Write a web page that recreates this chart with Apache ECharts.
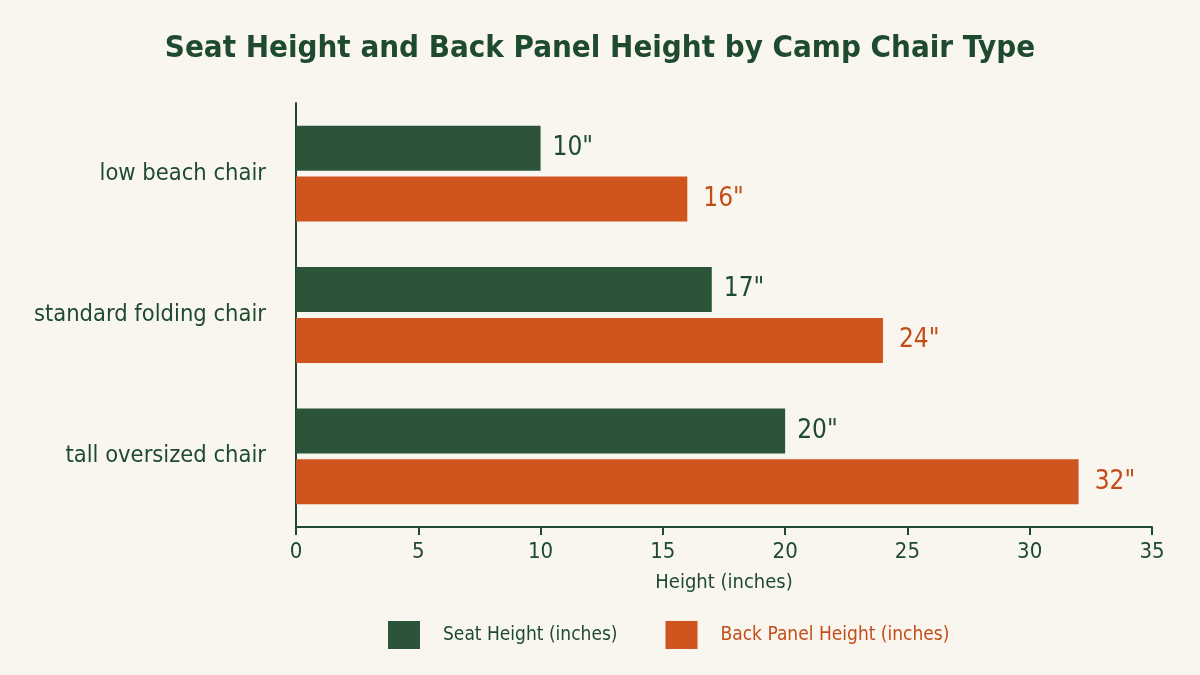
<!DOCTYPE html>
<html><head><meta charset="utf-8">
<script src="https://cdn.jsdelivr.net/npm/echarts@6/dist/echarts.min.js"></script>
<style>html,body{margin:0;padding:0;background:#f9f6ef;}#c{width:1200px;height:675px;}</style>
</head><body><div id="c"></div>
<script>
const categories = ["low beach chair", "standard folding chair", "tall oversized chair"];
const seatHeight = [10, 17, 20];
const backPanelHeight = [16, 24, 32];
const seriesNames = ["Seat Height (inches)", "Back Panel Height (inches)"];
const FONT = "'Liberation Sans Narrow', 'DejaVu Sans Condensed', 'Roboto', sans-serif";
const GREEN = "#2c5439", ORANGE = "#cf541d", DARK = "#1e4a2e";
const chart = echarts.init(document.getElementById('c'), null, {renderer: 'canvas'});
chart.setOption({
  backgroundColor: "#f9f6ef",
  textStyle: {fontFamily: FONT},
  title: {text: "Seat Height and Back Panel Height by Camp Chair Type", left: "center", top: 28,
    textStyle: {fontFamily: FONT, fontSize: 31, fontWeight: "bold", color: DARK}},
  legend: {bottom: 21, left: 383, icon: "rect", itemWidth: 32, itemHeight: 28, itemGap: 48,
    textStyle: {fontFamily: FONT, fontSize: 19, padding: [0, 0, 0, 18]},
    data: [{name: seriesNames[0], textStyle: {color: DARK}}, {name: seriesNames[1], textStyle: {color: "#c44d18"}}]},
  grid: {left: 296, right: 48, top: 103, bottom: 148, containLabel: false},
  xAxis: {type: "value", min: 0, max: 35, interval: 5,
    name: "Height (inches)", nameLocation: "middle", nameGap: 46,
    nameTextStyle: {fontFamily: FONT, fontSize: 20, color: DARK},
    axisLine: {show: true, lineStyle: {color: DARK, width: 2}},
    axisTick: {show: true, length: 8, lineStyle: {color: DARK, width: 2}},
    axisLabel: {fontFamily: FONT, fontSize: 22, color: DARK, margin: 14},
    splitLine: {show: false}},
  yAxis: {type: "category", data: categories, inverse: true,
    axisLine: {show: true, lineStyle: {color: DARK, width: 2}},
    axisTick: {show: false},
    axisLabel: {fontFamily: FONT, fontSize: 23.5, color: DARK, margin: 30}},
  series: [
    {name: seriesNames[0], type: "bar", data: seatHeight, barWidth: 45, barGap: "13%",
     itemStyle: {color: GREEN},
     label: {show: true, position: "right", distance: 12, formatter: p => p.value + '"',
       fontFamily: FONT, fontSize: 26, color: DARK}},
    {name: seriesNames[1], type: "bar", data: backPanelHeight, barWidth: 45,
     itemStyle: {color: ORANGE},
     label: {show: true, position: "right", distance: 16, formatter: p => p.value + '"',
       fontFamily: FONT, fontSize: 26, color: "#c44d18"}}
  ]
});
</script></body></html>
